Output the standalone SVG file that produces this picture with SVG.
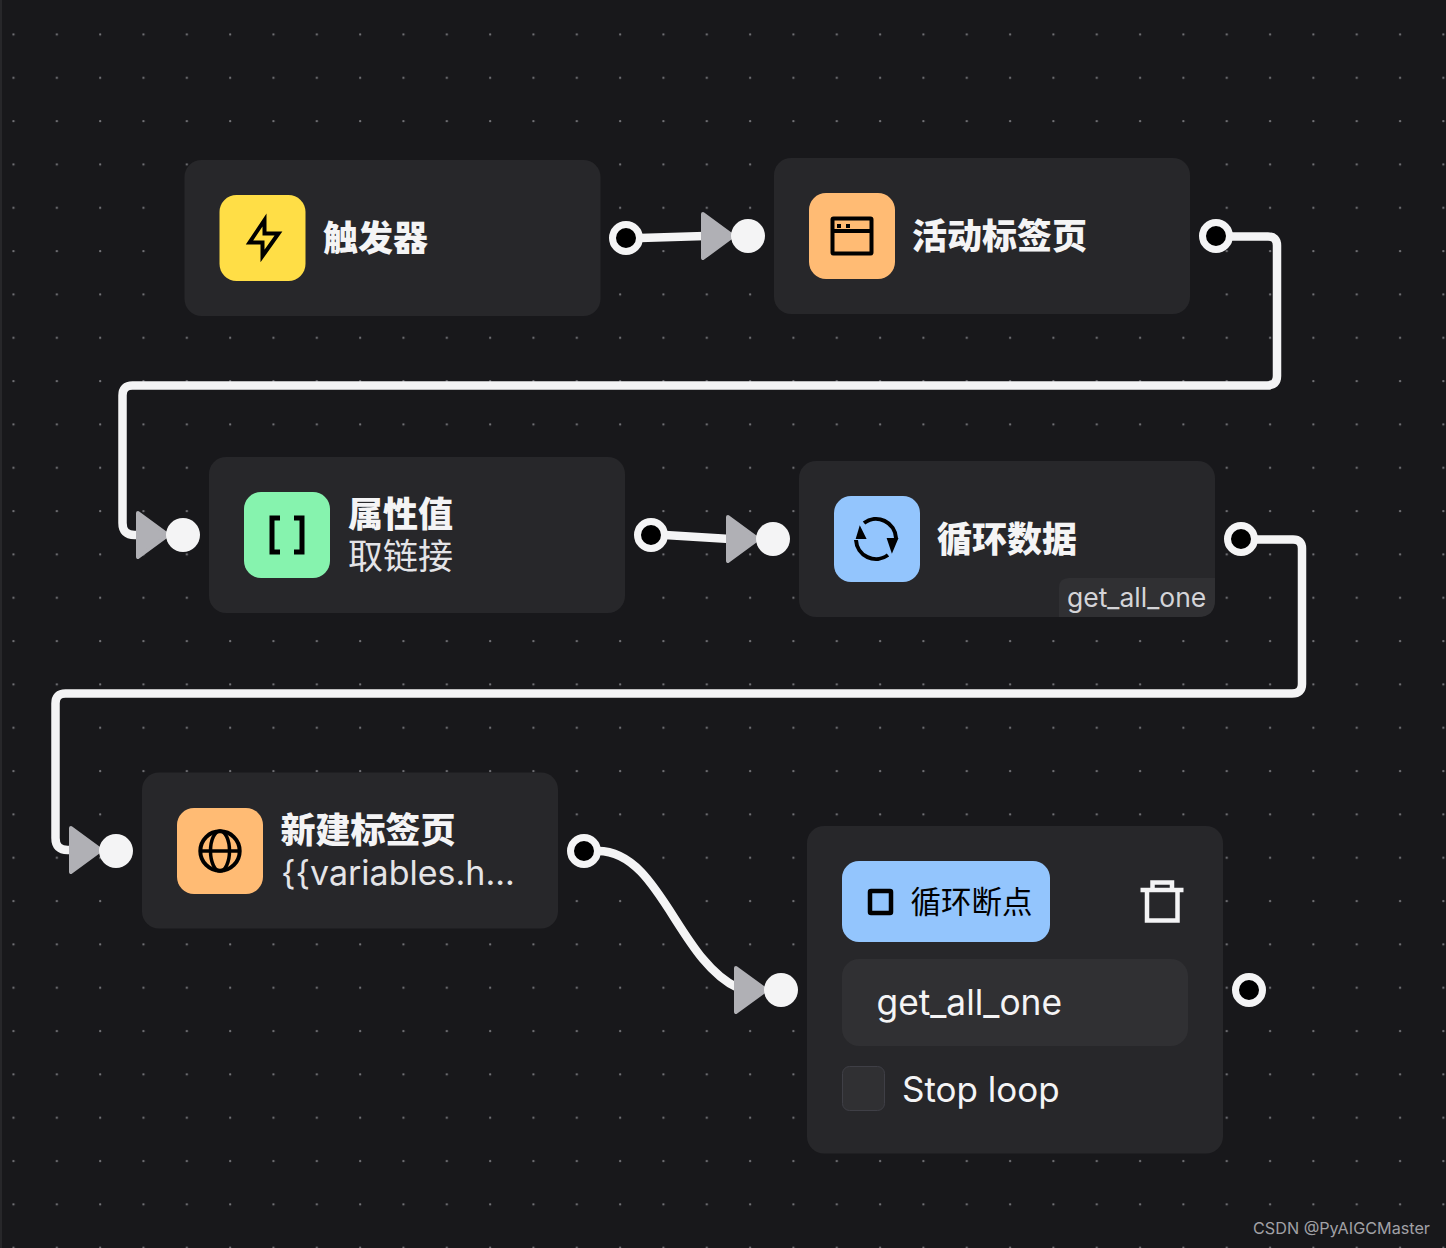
<svg xmlns="http://www.w3.org/2000/svg" width="1446" height="1248" viewBox="0 0 1446 1248">
<style>
.node{fill:#27272a}
.icon{stroke:#000;stroke-width:5;fill:none;stroke-linejoin:round}
.edge{fill:none;stroke:#f4f4f5;stroke-width:8.5;stroke-linejoin:round}
.tri{fill:#b0b0b5;stroke:#b0b0b5;stroke-width:4;stroke-linejoin:round}
.in{fill:#f4f4f5}
.out{fill:#000;stroke:#f4f4f5;stroke-width:7}
.t{font-family:Inter,"Noto Sans CJK SC",sans-serif;fill:#f4f4f5}
.b{font-size:35px;font-weight:900}
.r{font-size:34px;font-weight:400;fill:#e4e4e7}
</style>
<defs>
<pattern id="dots" x="13.33" y="34.33" width="43.33" height="43.33" patternUnits="userSpaceOnUse">
<circle cx="0.2" cy="0.2" r="1.1" fill="#77777c"/>
<circle cx="43.53" cy="0.2" r="1.1" fill="#77777c"/>
<circle cx="0.2" cy="43.53" r="1.1" fill="#77777c"/>
<circle cx="43.53" cy="43.53" r="1.1" fill="#77777c"/>
</pattern>
</defs>
<rect width="1446" height="1248" fill="#18181b"/>
<rect width="1446" height="1248" fill="url(#dots)"/>
<rect width="2" height="1248" fill="#27272a"/>
<g id="connectors">
<path class="edge" d="M640 238L705 236"/>
<path class="edge" d="M1230 236.500H1268Q1277 236.500 1277 245.500V376Q1277 385.500 1267 385.500H132.500Q122.500 385.500 122.500 395.500V523Q122.500 535 134.500 535H140"/>
<path class="edge" d="M665 535L730 539"/>
<path class="edge" d="M1255 539.500H1293Q1302 539.500 1302 548.500V684Q1302 693.500 1292 693.500H65.500Q55.500 693.500 55.500 703.500V838Q55.500 850 67.500 850H73"/>
<path class="edge" d="M598 851C660 851 678 960 738 988"/>
<path class="tri" d="M703 214L733 236L703 258Z"/>
<path class="tri" d="M138 513L168 535L138 557Z"/>
<path class="tri" d="M728 517L758 539L728 561Z"/>
<path class="tri" d="M71 828L101 850L71 872Z"/>
<path class="tri" d="M736 968L766 990L736 1012Z"/>
</g>
<g id="node-trigger">
<rect class="node" x="184.500" y="160" width="416" height="156" rx="17"/>
<circle class="out" cx="626" cy="238" r="13.500"/>
<rect x="219.500" y="195" width="86" height="86" rx="17" fill="#ffde46"/>
<path d="M264.500 220V233.500H278.500L262.500 256V242.500H249.500Z" fill="none" stroke="#000" stroke-width="4" stroke-linejoin="miter" stroke-miterlimit="10"/>
<text class="t b" x="323" y="251">触发器</text>
</g>
<g id="node-active-tab">
<rect class="node" x="774" y="158" width="416" height="156" rx="17"/>
<circle class="in" cx="748" cy="236" r="17"/>
<circle class="out" cx="1216" cy="236" r="13.500"/>
<rect x="809" y="193" width="86" height="86" rx="17" fill="#ffbb74"/>
<rect class="icon" x="832.500" y="218.500" width="39" height="35" rx="1" style="stroke-width:4"/>
<path class="icon" d="M832 231H872" style="stroke-width:4"/>
<path d="M837 224h4v4h-4zM846 224h4v4h-4z" fill="#000"/>
<text class="t b" x="912" y="249">活动标签页</text>
</g>
<g id="node-attribute">
<rect class="node" x="209" y="457" width="416" height="156" rx="17"/>
<circle class="in" cx="183" cy="535" r="17"/>
<circle class="out" cx="651" cy="535" r="13.500"/>
<rect x="244" y="492" width="86" height="86" rx="17" fill="#86f3ae"/>
<path class="icon" d="M280 518H272V552H280M294 518H302V552H294" style="stroke-width:5;stroke-linejoin:miter"/>
<text class="t b" x="348" y="527">属性值</text>
<text class="t r" style="font-size:35px" x="348" y="569">取链接</text>
</g>
<g id="node-loop">
<rect class="node" x="799" y="461" width="416" height="156" rx="17"/>
<circle class="in" cx="773" cy="539" r="17"/>
<circle class="out" cx="1241" cy="539" r="13.500"/>
<rect x="834" y="496" width="86" height="86" rx="17" fill="#93c5fd"/>
<path class="icon" d="M864 523A20 20 0 0 1 896 538M888 555A20 20 0 0 1 856 540" style="stroke-width:4"/>
<path d="M860 528L865 538H857Z M892 551L888 539H897Z" fill="#000" stroke="#000" stroke-width="2"/>
<text class="t b" x="937" y="552">循环数据</text>
<path d="M1059 617V588Q1059 578 1069 578H1215V600Q1215 617 1198 617Z" fill="#303033"/>
<text class="t" x="1067" y="607" style="font-size:26.500px;fill:#d4d4d8">get_all_one</text>
</g>
<g id="node-new-tab">
<rect class="node" x="142" y="772.500" width="416" height="156" rx="17"/>
<circle class="in" cx="116" cy="851" r="17"/>
<circle class="out" cx="584" cy="851" r="13.500"/>
<rect x="177" y="808" width="86" height="86" rx="17" fill="#ffbb74"/>
<circle class="icon" cx="220" cy="851" r="19.700" style="stroke-width:4"/>
<ellipse class="icon" cx="220" cy="851" rx="9.500" ry="20" style="stroke-width:3.500"/>
<path class="icon" d="M200 851H240" style="stroke-width:3.500"/>
<text class="t b" x="280.500" y="843">新建标签页</text>
<text class="t r" x="281" y="885">{{variables.h...</text>
</g>
<g id="node-loop-breakpoint">
<rect class="node" x="807" y="826" width="416" height="327.500" rx="17"/>
<circle class="in" cx="781" cy="990" r="17"/>
<circle class="out" cx="1249" cy="990" r="13.500"/>
<rect x="842" y="861" width="208" height="81" rx="17" fill="#93c5fd"/>
<rect x="870" y="891" width="21" height="22" rx="1" fill="none" stroke="#000" stroke-width="4.500"/>
<text class="t" x="910.500" y="913" style="font-size:30.500px;fill:#000">循环断点</text>
<path d="M1140.500 890H1183.500M1147 890V920.500H1177.500V890M1152.500 889V882.500H1172V889" fill="none" stroke="#f4f4f5" stroke-width="4.500"/>
<rect x="842" y="959" width="346" height="87" rx="17" fill="#303033"/>
<text class="t" x="876.500" y="1015" style="font-size:35.300px">get_all_one</text>
<rect x="842.500" y="1066.500" width="42" height="44" rx="7" fill="#303033" stroke="#3f3f46"/>
<text class="t" x="902" y="1102" style="font-size:35px">Stop loop</text>
</g>
<text x="1253" y="1234" style="font-family:Inter,sans-serif;font-size:16.200px;fill:#a1a1a6">CSDN @PyAIGCMaster</text>
</svg>
